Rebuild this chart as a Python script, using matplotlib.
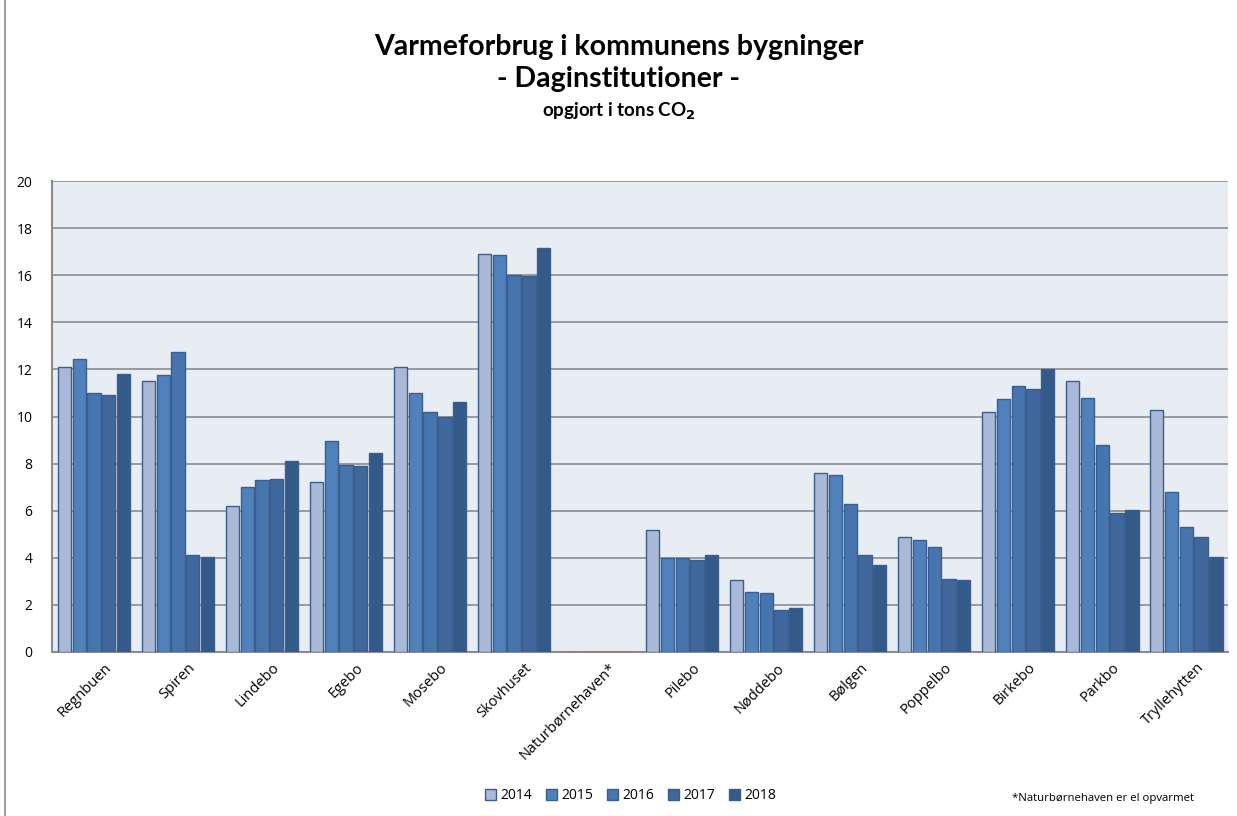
import matplotlib.pyplot as plt
import numpy as np
from matplotlib.patches import Rectangle

# Data
buildings = ['Regnbuen', 'Spiren', 'Lindebo', 'Egebo', 'Mosebo', 'Skovhuset',
             'Naturbørnehaven*', 'Pilebo', 'Nøddebo', 'Bølgen', 'Poppelbo',
             'Birkebo', 'Parkbo', 'Tryllehytten']
years = ['2014', '2015', '2016', '2017', '2018']
v2014 = [12.1, 11.5, 6.2, 7.2, 12.1, 16.9, 0, 5.2, 3.05, 7.6, 4.9, 10.2, 11.5, 10.3]
v2015 = [12.45, 11.75, 7.0, 8.95, 11.0, 16.85, 0, 4.0, 2.55, 7.5, 4.75, 10.75, 10.8, 6.8]
v2016 = [11.0, 12.75, 7.3, 7.95, 10.2, 16.0, 0, 4.0, 2.5, 6.3, 4.45, 11.3, 8.8, 5.3]
v2017 = [10.9, 4.1, 7.35, 7.9, 10.0, 15.95, 0, 3.9, 1.8, 4.1, 3.1, 11.15, 5.9, 4.9]
v2018 = [11.8, 4.05, 8.1, 8.45, 10.6, 17.15, 0, 4.1, 1.85, 3.7, 3.05, 12.0, 6.05, 4.05]
series = [v2014, v2015, v2016, v2017, v2018]
colors = ['#AAB9D7', '#4F81BD', '#4674AD', '#3F679C', '#345A89']

plt.rcParams['font.family'] = ['Open Sans', 'DejaVu Sans']

fig = plt.figure(figsize=(12.37, 8.16), dpi=100)
ax = fig.add_axes([0.042, 0.201, 0.951, 0.577])
ax.set_facecolor('#E8EDF4')

x = np.arange(len(buildings))
step = 0.176
bw = 0.158
for i, (vals, col) in enumerate(zip(series, colors)):
    ax.bar(x + (i - 2) * step, vals, width=bw, color=col, edgecolor='#3A5F8E',
           linewidth=1.0, label=years[i], zorder=3)

ax.set_xlim(-0.5, len(buildings) - 0.5)
ax.set_ylim(0, 20)
ax.set_yticks(range(0, 21, 2))
ax.yaxis.grid(True, color='#8C8C8C', linewidth=1.2, zorder=0)
ax.set_axisbelow(True)
ax.tick_params(axis='y', length=0, labelsize=10, pad=14)
ax.tick_params(axis='x', length=0, labelsize=10.5, pad=6)
ax.set_xticks(x + 0.12)
ax.set_xticklabels(buildings, rotation=45, ha='right', rotation_mode='anchor')
for s in ['top', 'right']:
    ax.spines[s].set_visible(False)
for s in ['left', 'bottom']:
    ax.spines[s].set_color('#8C8C8C')
    ax.spines[s].set_linewidth(1.5)

fig.text(0.5, 0.943, 'Varmeforbrug i kommunens bygninger', ha='center', va='center',
         fontsize=20.5, fontweight='bold', family=['Lato', 'DejaVu Sans'])
fig.text(0.5, 0.903, '- Daginstitutioner -', ha='center', va='center',
         fontsize=20.5, fontweight='bold', family=['Lato', 'DejaVu Sans'])
fig.text(0.5, 0.863, r'opgjort i tons CO$_\mathbf{2}$', ha='center', va='center',
         fontsize=13.5, fontweight='bold', family=['Lato', 'DejaVu Sans'])

leg = fig.legend(loc='center', bbox_to_anchor=(0.51, 0.025), ncol=5, frameon=False,
                 fontsize=10, handlelength=0.8, handleheight=0.8,
                 handletextpad=0.3, columnspacing=1.0)
fig.text(0.818, 0.022, '*Naturbørnehaven er el opvarmet', fontsize=8.2, va='center')

fig.patches.append(Rectangle((0.004, -0.01), 1.2, 1.2, transform=fig.transFigure,
                             fill=False, edgecolor='#8C8C8C', linewidth=1.2))

plt.savefig('out.png', dpi=100)
